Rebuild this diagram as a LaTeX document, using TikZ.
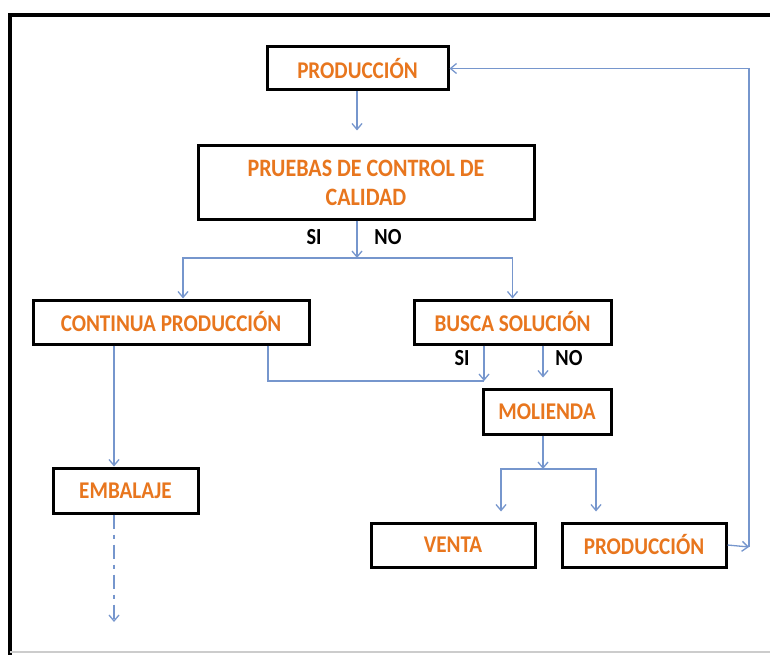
\documentclass[tikz,border=0pt]{standalone}
\usepackage{fontspec}
\setmainfont{Carlito}[FakeStretch=0.88]
\usetikzlibrary{arrows.meta}
\definecolor{naranja}{RGB}{232,118,30}
\definecolor{azul}{RGB}{118,150,205}
\tikzset{
	caja/.style={draw=black, line width=3pt, fill=white, text=naranja, inner sep=0pt, align=center, font=\bfseries\fontsize{24}{28}\selectfont},
	flecha/.style={draw=azul, line width=1.3pt},
	etiq/.style={font=\bfseries\fontsize{23}{26}\selectfont, inner sep=0pt}
}

\begin{document}
\begin{tikzpicture}[x=1pt,y=-1pt,>={Straight Barb[length=6pt,width=10pt]}]
	\useasboundingbox (0,0) rectangle (770,655);
	
	%Marco
	\draw[line width=4pt] (10,655) -- (10,15) -- (770,15);
	\draw[black!20, line width=1.5pt] (10,652) -- (770,652);
	
	%Cajas
	\node[caja, minimum width=181pt, minimum height=43pt] (prod1) at (357.5,68.5) {PRODUCCIÓN};
	\node[caja, minimum width=336pt, minimum height=73pt, font=\bfseries\fontsize{25}{29}\selectfont] (pruebas) at (366,182.5) {PRUEBAS DE CONTROL DE\\CALIDAD};
	\node[caja, minimum width=276pt, minimum height=44pt] (continua) at (171,322) {CONTINUA PRODUCCIÓN};
	\node[caja, minimum width=197pt, minimum height=44pt] (busca) at (512.5,322) {BUSCA SOLUCIÓN};
	\node[caja, minimum width=128pt, minimum height=45pt] (molienda) at (547,411.5) {MOLIENDA};
	\node[caja, minimum width=145pt, minimum height=45pt] (embalaje) at (125.5,490.5) {EMBALAJE};
	\node[caja, minimum width=164pt, minimum height=44pt] (venta) at (453,545) {VENTA};
	\node[caja, minimum width=164pt, minimum height=44pt] (prod2) at (644,545) {PRODUCCIÓN};
	
	%Etiquetas
	\node[etiq] (si1) at (314,237) {SI};
	\node[etiq] (no1) at (388,237) {NO};
	\node[etiq] (si2) at (462,358) {SI};
	\node[etiq] (no2) at (569,358) {NO};
	
	%Puntos de union
	\coordinate (split1) at (357,258);
	\coordinate (join) at (484,381);
	\coordinate (back) at (268,381);
	\coordinate (split2) at (543,469);
	\coordinate (ret) at (749,547);
	\coordinate (fin) at (114,622);
	
	%Flechas
	\draw[flecha,->,shorten >=14pt] (prod1.south -| split1) -- (pruebas.north -| split1);
	\draw[flecha,->] (pruebas.south -| split1) -- (split1);
	\draw[flecha,->] (split1) -| ([xshift=12pt]continua.north);
	\draw[flecha,->] (split1) -| (busca.north);
	\draw[flecha] (continua.south -| back) |- (join);
	\draw[flecha,->] (busca.south -| join) -- (join);
	\draw[flecha,->,shorten >=10pt] (busca.south -| split2) -- (molienda.north -| split2);
	\draw[flecha,->] (molienda.south -| split2) -- (split2);
	\draw[flecha,->,shorten >=10pt] (split2) -| ([xshift=48pt]venta.north);
	\draw[flecha,->,shorten >=10pt] (split2) -| ([xshift=-48pt]prod2.north);
	\draw[flecha,->] (prod2.east) -- (ret);
	\draw[flecha,->] (ret) |- (prod1.east);
	\draw[flecha,->] (continua.south -| fin) -- (embalaje.north -| fin);
	\draw[flecha,->,dash pattern=on 14pt off 6pt on 4pt off 6pt] (embalaje.south -| fin) -- (fin);
	
\end{tikzpicture}
\end{document}
